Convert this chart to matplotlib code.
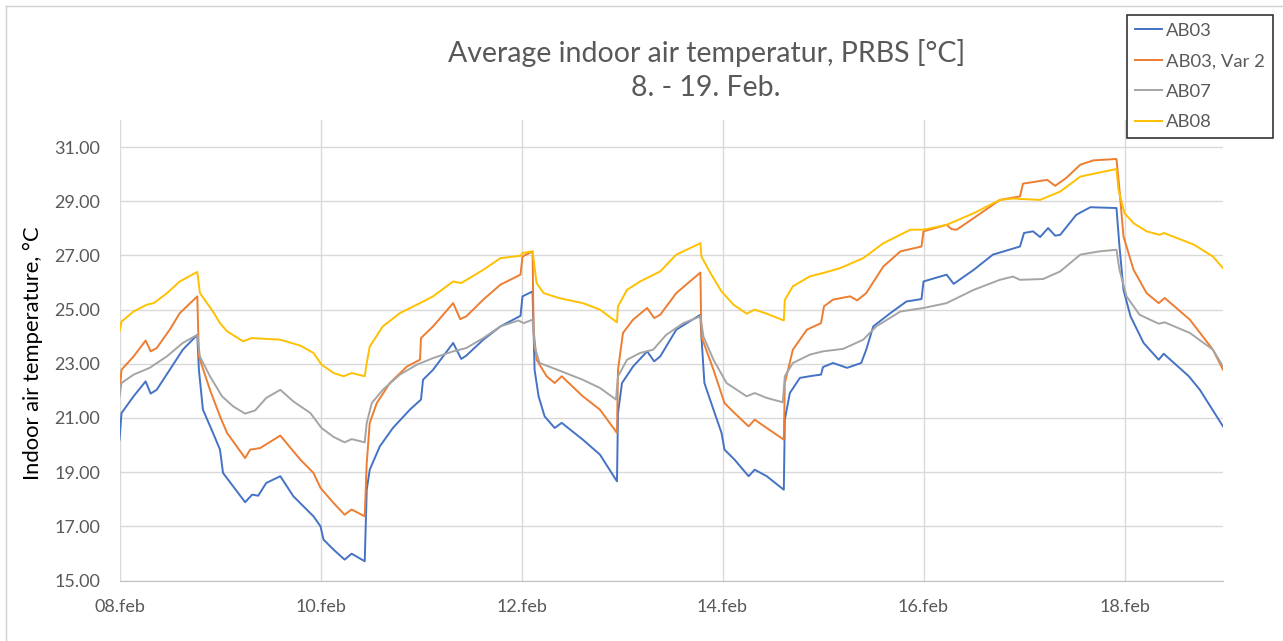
import matplotlib
matplotlib.use("Agg")
import matplotlib.pyplot as plt
from matplotlib.lines import Line2D

plt.rcParams['font.family'] = ['Lato', 'DejaVu Sans']

# days after 08.feb 00:00
ab03_t = [0, 0.02, 0.14, 0.26, 0.31, 0.37, 0.50, 0.63, 0.774, 0.79, 0.83, 0.93, 1.0, 1.03, 1.13,
          1.25, 1.32, 1.38, 1.46, 1.60, 1.73, 1.93, 2.0, 2.03, 2.13, 2.24, 2.31, 2.44, 2.46, 2.49,
          2.59, 2.72, 2.89, 3.0, 3.02, 3.12, 3.32, 3.40, 3.45, 3.62, 3.79, 3.99, 4.01, 4.11, 4.12,
          4.13, 4.17, 4.23, 4.33, 4.40, 4.61, 4.78, 4.95, 4.96, 5.0, 5.11, 5.25, 5.32, 5.38, 5.54,
          5.78, 5.79, 5.82, 5.91, 5.99, 6.02, 6.12, 6.26, 6.32, 6.44, 6.61, 6.62, 6.67, 6.77, 6.90,
          6.98, 7.0, 7.10, 7.24, 7.38, 7.43, 7.50, 7.67, 7.83, 7.98, 8.0, 8.23, 8.30, 8.50, 8.69,
          8.96, 9.0, 9.09, 9.16, 9.24, 9.31, 9.36, 9.52, 9.66, 9.92, 9.95, 9.99, 10.06, 10.19,
          10.34, 10.39, 10.64, 10.75, 10.98]
ab03_v = [20.2, 21.18, 21.8, 22.35, 21.9, 22.04, 22.78, 23.52, 24.07, 22.78, 21.31, 20.45, 19.83,
          18.97, 18.48, 17.89, 18.17, 18.13, 18.6, 18.85, 18.11, 17.37, 17.0, 16.51, 16.14, 15.77,
          15.99, 15.71, 18.35, 19.09, 19.95, 20.63, 21.31, 21.68, 22.41, 22.78, 23.77, 23.18, 23.3,
          23.89, 24.38, 24.77, 25.49, 25.67, 24.26, 22.78, 21.8, 21.06, 20.63, 20.82, 20.2, 19.65,
          18.66, 21.18, 22.29, 22.9, 23.46, 23.09, 23.27, 24.26, 24.81, 24.01, 22.29, 21.31, 20.45,
          19.83, 19.46, 18.85, 19.09, 18.85, 18.35, 20.94, 21.92, 22.48, 22.56, 22.6, 22.88, 23.03,
          22.85, 23.03, 23.52, 24.38, 24.87, 25.3, 25.39, 26.04, 26.29, 25.95, 26.47, 27.03, 27.33,
          27.83, 27.89, 27.68, 28.01, 27.73, 27.76, 28.5, 28.78, 28.75, 27.33, 25.73, 24.75, 23.77,
          23.15, 23.37, 22.54, 22.04, 20.69]

ab03v2_t = [0, 0.02, 0.14, 0.26, 0.31, 0.37, 0.50, 0.60, 0.774, 0.79, 0.90, 1.0, 1.07, 1.25, 1.30,
            1.40, 1.60, 1.80, 1.93, 2.0, 2.13, 2.24, 2.31, 2.44, 2.46, 2.49, 2.56, 2.69, 2.86, 2.99,
            3.0, 3.12, 3.32, 3.39, 3.45, 3.62, 3.79, 3.99, 4.01, 4.11, 4.12, 4.15, 4.25, 4.33, 4.40,
            4.61, 4.78, 4.95, 4.96, 5.01, 5.11, 5.25, 5.32, 5.38, 5.54, 5.78, 5.79, 5.91, 6.02, 6.12,
            6.26, 6.32, 6.44, 6.61, 6.62, 6.70, 6.84, 6.98, 7.01, 7.10, 7.27, 7.34, 7.43, 7.60, 7.77,
            7.98, 8.0, 8.23, 8.28, 8.33, 8.50, 8.76, 8.96, 8.99, 9.23, 9.31, 9.42, 9.56, 9.69, 9.92,
            9.95, 9.99, 10.09, 10.22, 10.34, 10.40, 10.65, 10.88, 10.98]
ab03v2_v = [21.92, 22.78, 23.27, 23.86, 23.46, 23.58, 24.26, 24.87, 25.49, 23.27, 22.04, 21.06,
            20.45, 19.52, 19.83, 19.89, 20.35, 19.46, 18.97, 18.42, 17.86, 17.43, 17.62, 17.37,
            19.34, 20.82, 21.55, 22.29, 22.9, 23.15, 23.95, 24.38, 25.24, 24.65, 24.75, 25.37,
            25.92, 26.29, 26.96, 27.15, 24.26, 23.15, 22.54, 22.29, 22.54, 21.8, 21.31, 20.45,
            22.78, 24.14, 24.63, 25.06, 24.69, 24.81, 25.61, 26.37, 24.01, 22.78, 21.55, 21.18,
            20.69, 20.94, 20.63, 20.2, 22.29, 23.52, 24.26, 24.5, 25.12, 25.37, 25.49, 25.34, 25.61,
            26.59, 27.15, 27.33, 27.89, 28.13, 27.97, 27.95, 28.38, 29.05, 29.18, 29.65, 29.79,
            29.57, 29.86, 30.35, 30.51, 30.56, 29.42, 27.7, 26.47, 25.61, 25.24, 25.43, 24.63,
            23.52, 22.78]

ab07_t = [0, 0.02, 0.14, 0.30, 0.47, 0.63, 0.774, 0.80, 0.90, 1.02, 1.13, 1.25, 1.35, 1.46, 1.60,
          1.73, 1.90, 2.01, 2.13, 2.24, 2.31, 2.44, 2.46, 2.51, 2.62, 2.79, 2.96, 3.12, 3.32, 3.45,
          3.62, 3.79, 3.97, 4.02, 4.11, 4.13, 4.18, 4.37, 4.61, 4.78, 4.94, 4.96, 5.05, 5.18, 5.31,
          5.44, 5.61, 5.78, 5.81, 5.91, 6.04, 6.24, 6.32, 6.44, 6.60, 6.62, 6.70, 6.87, 7.0, 7.20,
          7.40, 7.53, 7.77, 8.0, 8.23, 8.50, 8.76, 8.89, 8.96, 9.19, 9.36, 9.56, 9.75, 9.92, 9.95,
          10.02, 10.15, 10.34, 10.40, 10.65, 10.88, 10.98]
ab07_v = [21.8, 22.29, 22.6, 22.85, 23.27, 23.77, 24.07, 23.27, 22.54, 21.8, 21.43, 21.16, 21.28,
          21.74, 22.04, 21.61, 21.18, 20.63, 20.3, 20.1, 20.22, 20.1, 20.82, 21.55, 22.04, 22.6,
          22.97, 23.21, 23.46, 23.58, 23.95, 24.38, 24.6, 24.5, 24.63, 23.64, 23.03, 22.76, 22.41,
          22.11, 21.68, 22.54, 23.15, 23.4, 23.52, 24.07, 24.5, 24.75, 24.01, 23.15, 22.29, 21.8,
          21.92, 21.74, 21.58, 22.54, 23.03, 23.34, 23.46, 23.55, 23.89, 24.38, 24.93, 25.06, 25.24,
          25.73, 26.1, 26.22, 26.1, 26.13, 26.41, 27.03, 27.15, 27.21, 26.47, 25.49, 24.81, 24.48,
          24.53, 24.14, 23.52, 22.9]

ab08_t = [0, 0.02, 0.14, 0.27, 0.34, 0.47, 0.60, 0.774, 0.80, 0.93, 1.0, 1.07, 1.23, 1.315, 1.60,
          1.80, 1.93, 2.01, 2.13, 2.23, 2.31, 2.44, 2.46, 2.49, 2.62, 2.79, 2.99, 3.12, 3.32, 3.40,
          3.62, 3.79, 3.99, 4.01, 4.11, 4.15, 4.22, 4.37, 4.61, 4.78, 4.95, 4.96, 5.05, 5.18, 5.38,
          5.54, 5.78, 5.79, 5.88, 5.99, 6.11, 6.24, 6.32, 6.44, 6.61, 6.62, 6.70, 6.87, 7.0, 7.17,
          7.40, 7.60, 7.87, 8.0, 8.23, 8.50, 8.76, 8.89, 9.16, 9.36, 9.56, 9.75, 9.92, 9.94, 10.0,
          10.09, 10.22, 10.35, 10.39, 10.69, 10.88, 10.98]
ab08_v = [24.2, 24.56, 24.93, 25.18, 25.24, 25.6, 26.04, 26.39, 25.61, 24.93, 24.5, 24.2, 23.83,
          23.95, 23.89, 23.67, 23.4, 22.97, 22.66, 22.54, 22.66, 22.54, 23.03, 23.64, 24.38, 24.87,
          25.24, 25.49, 26.04, 25.98, 26.47, 26.9, 26.99, 27.09, 27.15, 25.98, 25.61, 25.43, 25.24,
          25.0, 24.53, 25.12, 25.73, 26.04, 26.41, 27.03, 27.45, 26.96, 26.35, 25.67, 25.18, 24.85,
          25.0, 24.85, 24.6, 25.36, 25.86, 26.23, 26.35, 26.53, 26.9, 27.45, 27.95, 27.95, 28.13,
          28.56, 29.05, 29.1, 29.05, 29.36, 29.91, 30.06, 30.19, 29.42, 28.56, 28.19, 27.89, 27.76,
          27.83, 27.4, 26.96, 26.53]

x_ticks = [0, 2, 4, 6, 8, 10]
x_labels = ["08.feb", "10.feb", "12.feb", "14.feb", "16.feb", "18.feb"]
y_ticks = [15, 17, 19, 21, 23, 25, 27, 29, 31]

W, H = 1283, 641
fig = plt.figure(figsize=(W / 100, H / 100), dpi=100)
ax = fig.add_axes([119.5 / W, 1 - 580.5 / H, (1223 - 119.5) / W, (580.5 - 120) / H])

ax.plot(ab03_t, ab03_v, color="#4472C4", lw=1.4, label="AB03")
ax.plot(ab03v2_t, ab03v2_v, color="#ED7D31", lw=1.4, label="AB03, Var 2")
ax.plot(ab07_t, ab07_v, color="#A5A5A5", lw=1.4, label="AB07")
ax.plot(ab08_t, ab08_v, color="#FFC000", lw=1.4, label="AB08")

ax.set_xlim(0, 10.98)
ax.set_ylim(15, 32)
ax.set_xticks(x_ticks)
ax.set_xticklabels(x_labels)
ax.set_yticks(y_ticks)
ax.set_yticklabels([f"{v:.2f}" for v in y_ticks])
ax.grid(True, color="#D9D9D9", lw=1)
ax.set_axisbelow(True)
for s in ["top", "right", "left"]:
    ax.spines[s].set_visible(False)
ax.spines["bottom"].set_color("#BFBFBF")
ax.tick_params(length=0, labelsize=13, labelcolor="#595959")
ax.tick_params(axis="y", pad=14)
ax.tick_params(axis="x", pad=13)

ax.set_ylabel("Indoor air temperature, °C", fontsize=15.8, color="black")
ax.yaxis.set_label_coords(-0.069, 0.494)

fig.text(707 / W, 1 - 53 / H, "Average indoor air temperatur, PRBS [°C]", ha="center",
         va="center", fontsize=20.5, color="#595959")
fig.text(706 / W, 1 - 88 / H, "8. - 19. Feb.", ha="center", va="center", fontsize=20.5,
         color="#595959")

leg = fig.legend(loc="upper left", bbox_to_anchor=(1127 / W, 1 - 15 / H), fontsize=13.3,
                 frameon=True, fancybox=False, edgecolor="black", handlelength=1.45,
                 handletextpad=0.25, labelspacing=0.78, borderpad=0.42, borderaxespad=0)
leg.get_frame().set_linewidth(1.2)
for t in leg.get_texts():
    t.set_color("#595959")

# outer chart border
fig.add_artist(Line2D([6 / W, 6 / W], [0, 1 - 6 / H], color="#D0D0D0", lw=1))
fig.add_artist(Line2D([6 / W, 1], [1 - 6 / H, 1 - 6 / H], color="#D0D0D0", lw=1))

fig.savefig("out.png", dpi=100, facecolor="white")
